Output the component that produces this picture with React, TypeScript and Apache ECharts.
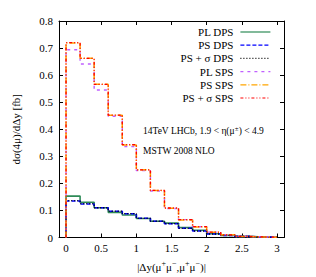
import React, { useEffect, useRef } from "react";
import * as echarts from "echarts";

const binEdges = [0, 0.2, 0.4, 0.6, 0.8, 1.0, 1.2, 1.4, 1.6, 1.8, 2.0, 2.2, 2.4, 2.6, 2.8, 3.0];

const plDps = [0.153, 0.130, 0.110, 0.093, 0.083, 0.070, 0.060, 0.053, 0.037, 0.027, 0.014, 0.008, 0.004, 0.002, 0.001];
const psDps = [0.135, 0.124, 0.110, 0.097, 0.088, 0.071, 0.060, 0.051, 0.034, 0.024, 0.013, 0.008, 0.004, 0.002, 0.001];
const psSigmaDps = [0.136, 0.125, 0.110, 0.097, 0.088, 0.071, 0.060, 0.051, 0.034, 0.024, 0.013, 0.008, 0.004, 0.002, 0.001];
const plSps = [0.694, 0.641, 0.545, 0.448, 0.336, 0.247, 0.172, 0.107, 0.066, 0.040, 0.020, 0.010, 0.004, 0.002, 0.001];
const psSps = [0.719, 0.662, 0.566, 0.452, 0.342, 0.250, 0.174, 0.108, 0.065, 0.039, 0.019, 0.010, 0.004, 0.002, 0.001];
const psSigmaSps = [0.720, 0.662, 0.566, 0.452, 0.343, 0.250, 0.174, 0.109, 0.066, 0.040, 0.020, 0.010, 0.004, 0.002, 0.001];

const xTicks = [0, 0.5, 1, 1.5, 2, 2.5, 3];
const seriesNames = ["PL DPS", "PS DPS", "PS + σ DPS", "PL SPS", "PS SPS", "PS + σ SPS"];

const FONT = "Liberation Serif, Times New Roman, serif";

function stepPoints(vals: number[]): number[][] {
  const pts: number[][] = [[binEdges[0], 0]];
  vals.forEach((v, i) => {
    pts.push([binEdges[i], v]);
    pts.push([binEdges[i + 1], v]);
  });
  pts.push([binEdges[binEdges.length - 1], 0]);
  return pts;
}

export default function App() {
  const ref = useRef<HTMLDivElement>(null);
  useEffect(() => {
    if (!ref.current) return;
    const chart = echarts.init(ref.current, null, { renderer: "svg" });
    const styles = [
      { data: plDps, color: "#2e8b57", type: "solid" as any, width: 1.6 },
      { data: psDps, color: "#0000ff", type: [4, 2] as any, width: 1.6 },
      { data: psSigmaDps, color: "#000000", type: [1, 2] as any, width: 1.3 },
      { data: plSps, color: "#c060ff", type: [3, 4] as any, width: 1.4 },
      { data: psSps, color: "#ffa500", type: [6, 2, 1, 2] as any, width: 1.5 },
      { data: psSigmaSps, color: "#ff0000", type: [3, 2, 1, 2, 1, 2] as any, width: 1.3 },
    ];
    const axisLine = { show: true, onZero: false, lineStyle: { color: "#000", width: 1 } };
    const tick = { show: true, inside: true, length: 4, lineStyle: { color: "#000", width: 1 } };
    const supStyle = { fontFamily: FONT, fontSize: 7, verticalAlign: "top", padding: [0, 0, 5, 0], color: "#000", fill: "#000" };
    chart.setOption({
      animation: false,
      backgroundColor: "#fff",
      grid: { left: 59, top: 21, right: 32, bottom: 39, containLabel: false },
      textStyle: { fontFamily: FONT },
      legend: {
        data: seriesNames,
        orient: "vertical",
        right: 45,
        top: 26.5,
        padding: 0,
        align: "right",
        itemWidth: 30,
        itemHeight: 11,
        itemGap: 2.2,
        itemStyle: { opacity: 0 },
        lineStyle: { width: 1.2 },
        textStyle: { fontFamily: FONT, fontSize: 11, color: "#000", padding: [0, 2, 0, 0] },
      },
      xAxis: [
        {
          type: "value",
          min: -0.1,
          max: 3.1,
          position: "bottom",
          name: "|Δy(μ{sup|+}μ{sup|−},μ{sup|+}μ{sup|−})|",
          nameLocation: "middle",
          nameGap: 22,
          nameTextStyle: {
            fontFamily: FONT,
            fontSize: 11,
            color: "#000",
            rich: { sup: { ...supStyle, fontSize: 8, padding: [0, 0, 6, 0] } },
          },
          axisLine,
          axisTick: { ...tick, customValues: xTicks },
          axisLabel: { customValues: xTicks, fontFamily: FONT, fontSize: 11, color: "#000", margin: 5 },
          splitLine: { show: false },
        },
        {
          type: "value",
          min: -0.1,
          max: 3.1,
          position: "top",
          axisLine,
          axisTick: { ...tick, customValues: xTicks },
          axisLabel: { show: false, customValues: xTicks },
          splitLine: { show: false },
        },
      ],
      yAxis: [
        {
          type: "value",
          min: 0,
          max: 0.8,
          interval: 0.1,
          position: "left",
          name: "dσ(4μ)/dΔy [fb]",
          nameLocation: "middle",
          nameGap: 38,
          nameTextStyle: { fontFamily: FONT, fontSize: 11, color: "#000" },
          axisLine,
          axisTick: tick,
          axisLabel: { fontFamily: FONT, fontSize: 11, color: "#000", margin: 6 },
          splitLine: { show: false },
        },
        {
          type: "value",
          min: 0,
          max: 0.8,
          interval: 0.1,
          position: "right",
          axisLine,
          axisTick: tick,
          axisLabel: { show: false },
          splitLine: { show: false },
        },
      ],
      graphic: [
        {
          type: "text",
          x: 143,
          y: 131.3,
          style: {
            text: "14TeV LHCb, 1.9 < η(μ{sup|±}) < 4.9",
            fontFamily: FONT,
            fontSize: 9.5,
            fill: "#000",
            textAlign: "left",
            textVerticalAlign: "middle",
            rich: { sup: supStyle },
          } as any,
        },
        {
          type: "text",
          x: 143,
          y: 151.3,
          style: {
            text: "MSTW 2008 NLO",
            fontFamily: FONT,
            fontSize: 9.5,
            fill: "#000",
            textAlign: "left",
            textVerticalAlign: "middle",
          } as any,
        },
      ],
      series: styles.map((s, i) => ({
        name: seriesNames[i],
        type: "line",
        xAxisIndex: 0,
        yAxisIndex: 0,
        data: stepPoints(s.data),
        symbol: "none",
        showSymbol: false,
        lineStyle: { color: s.color, type: s.type, width: s.width },
        itemStyle: { color: s.color },
        z: 2 + i,
      })),
    });
    return () => chart.dispose();
  }, []);
  return <div ref={ref} style={{ position: "fixed", left: 0, top: 0, width: 316, height: 277 }} />;
}
